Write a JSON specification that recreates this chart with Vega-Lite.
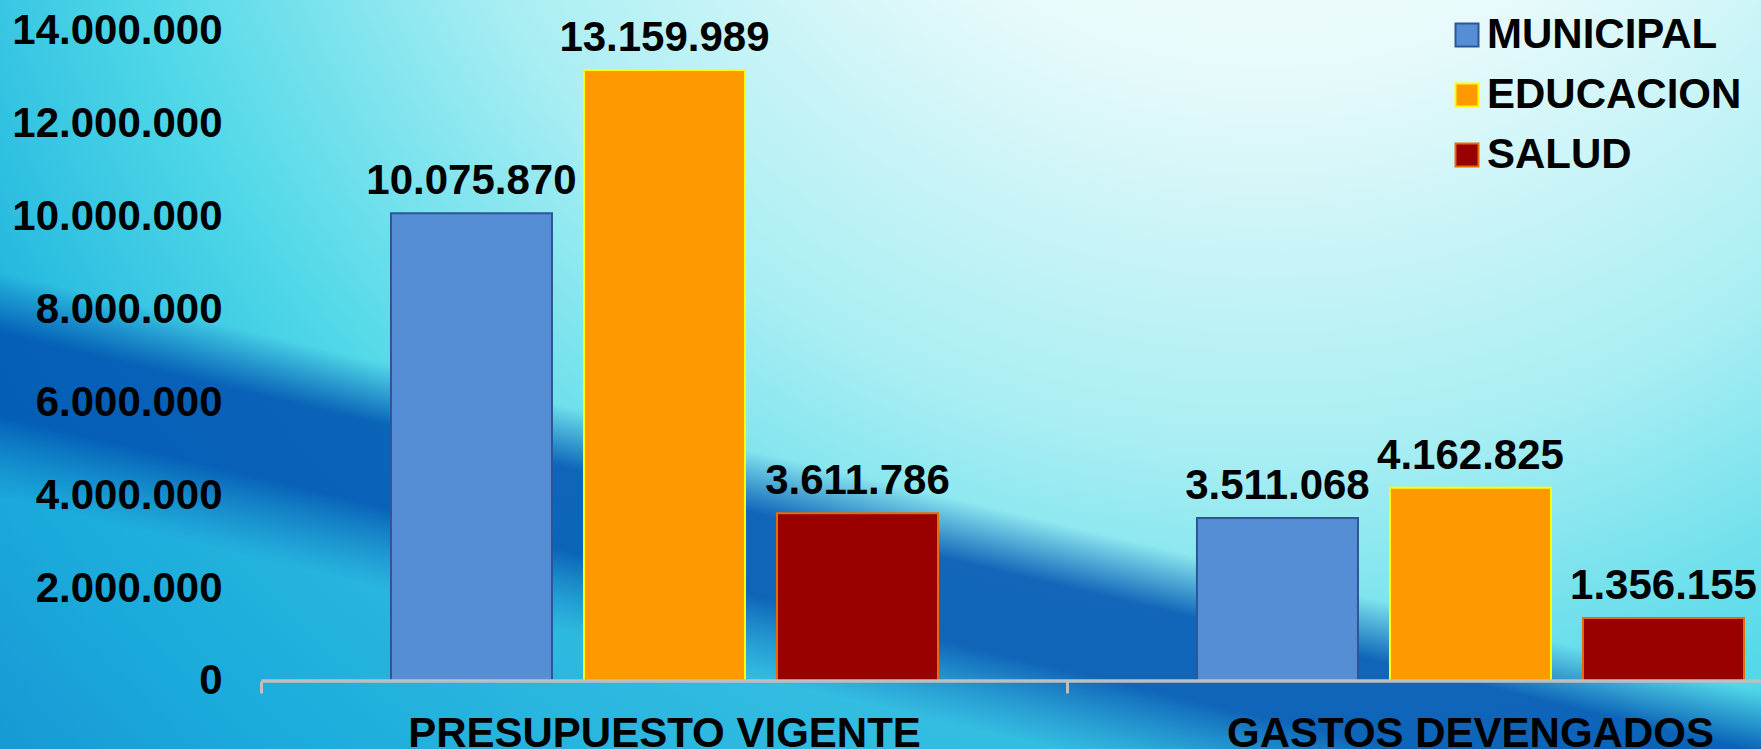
{
  "$schema": "https://vega.github.io/schema/vega-lite/v6.json",
  "width": 1761,
  "height": 749,
  "autosize": {"type": "none"},
  "padding": 0,
  "background": "#6FD6E8",
  "config": {
    "locale": {"number": {"decimal": ",", "thousands": ".", "grouping": [3], "currency": ["", ""]}},
    "font": "Liberation Sans",
    "view": {"stroke": null}
  },
  "data": {
    "values": [
      {"concepto": "PRESUPUESTO VIGENTE", "sector": "MUNICIPAL", "monto": 10075870},
      {"concepto": "PRESUPUESTO VIGENTE", "sector": "EDUCACION", "monto": 13159989},
      {"concepto": "PRESUPUESTO VIGENTE", "sector": "SALUD", "monto": 3611786},
      {"concepto": "GASTOS DEVENGADOS", "sector": "MUNICIPAL", "monto": 3511068},
      {"concepto": "GASTOS DEVENGADOS", "sector": "EDUCACION", "monto": 4162825},
      {"concepto": "GASTOS DEVENGADOS", "sector": "SALUD", "monto": 1356155}
    ]
  },
  "layer": [
    {
      "data": {"values": [{"fondo": "degradado"}]},
      "mark": {
        "type": "rect",
        "fill": {
          "gradient": "radial",
          "x1": 0.72, "y1": 0.05, "r1": 0,
          "x2": 0.72, "y2": 0.05, "r2": 1.1,
          "stops": [
            {"offset": 0, "color": "#FFFFFF"},
            {"offset": 0.25, "color": "#E8FAFB"},
            {"offset": 0.45, "color": "#A8EEF3"},
            {"offset": 0.62, "color": "#50D8E8"},
            {"offset": 0.78, "color": "#1AB0DC"},
            {"offset": 0.9, "color": "#0A7CC8"},
            {"offset": 1, "color": "#0558B0"}
          ]
        }
      },
      "encoding": {}
    },
    {
      "data": {"values": [{"fondo": "franja"}]},
      "mark": {
        "type": "rect",
        "fill": {
          "gradient": "linear",
          "x1": 0.2932, "y1": -0.0236, "x2": -0.2932, "y2": 1.0236,
          "stops": [
            {"offset": 0, "color": "rgba(0,80,176,0)"},
            {"offset": 0.4, "color": "rgba(0,80,176,0)"},
            {"offset": 0.46, "color": "rgba(0,80,176,0.85)"},
            {"offset": 0.54, "color": "rgba(0,80,176,0.85)"},
            {"offset": 0.62, "color": "rgba(30,170,220,0.6)"},
            {"offset": 1, "color": "rgba(30,170,220,0.6)"}
          ]
        }
      },
      "encoding": {}
    },
    {
      "mark": {"type": "bar", "strokeWidth": 2},
      "encoding": {
        "x": {
          "field": "concepto", "type": "nominal",
          "sort": ["PRESUPUESTO VIGENTE", "GASTOS DEVENGADOS"],
          "scale": {"paddingInner": 0.3213, "paddingOuter": 0.2531, "align": 0.9583},
          "axis": {
            "orient": "bottom", "offset": -68, "domain": false, "grid": false, "zindex": 2,
            "bandPosition": -0.2367, "tickSize": 12, "tickWidth": 3, "tickColor": "#BFBFBF",
            "labelPadding": 20, "labelFontSize": 42, "labelFontWeight": "bold",
            "labelColor": "black", "labelAngle": 0, "labelLimit": 1000,
            "labelOverlap": false, "title": null
          }
        },
        "xOffset": {
          "field": "sector", "type": "nominal",
          "sort": ["MUNICIPAL", "EDUCACION", "SALUD"],
          "scale": {"paddingInner": 0.1658, "paddingOuter": 0}
        },
        "y": {
          "field": "monto", "type": "quantitative",
          "scale": {"domain": [-1464600, 14667000], "nice": false, "zero": false},
          "axis": {
            "orient": "left", "offset": -222, "zindex": 2,
            "values": [0, 2000000, 4000000, 6000000, 8000000, 10000000, 12000000, 14000000],
            "format": ",d", "domain": false, "ticks": false, "tickSize": 0,
            "labelPadding": 0, "grid": false, "labelFontSize": 42, "labelFontWeight": "bold",
            "labelColor": "black", "labelLimit": 1000, "labelOverlap": false,
            "labelFlush": false, "title": null
          }
        },
        "y2": {"datum": 0},
        "fill": {
          "field": "sector", "type": "nominal",
          "scale": {"domain": ["MUNICIPAL", "EDUCACION", "SALUD"], "range": ["#558ED5", "#FF9900", "#990000"]},
          "legend": {
            "orient": "none", "legendX": 1446, "legendY": 14, "title": null,
            "symbolType": "square", "symbolSize": 529, "symbolStrokeWidth": 2,
            "labelFontSize": 42, "labelFontWeight": "bold", "labelColor": "black",
            "labelLimit": 1000, "rowPadding": 18, "labelOffset": -1, "padding": 0
          }
        },
        "stroke": {
          "field": "sector", "type": "nominal",
          "scale": {"domain": ["MUNICIPAL", "EDUCACION", "SALUD"], "range": ["#2B5797", "#FFFF00", "#E46C0A"]},
          "legend": {
            "orient": "none", "legendX": 1446, "legendY": 14, "title": null,
            "symbolType": "square", "symbolSize": 529, "symbolStrokeWidth": 2,
            "labelFontSize": 42, "labelFontWeight": "bold", "labelColor": "black",
            "labelLimit": 1000, "rowPadding": 18, "labelOffset": -1, "padding": 0
          }
        }
      }
    },
    {
      "mark": {"type": "text", "dy": -19, "fontSize": 42, "fontWeight": "bold", "baseline": "alphabetic", "color": "black"},
      "encoding": {
        "x": {"field": "concepto", "type": "nominal", "sort": ["PRESUPUESTO VIGENTE", "GASTOS DEVENGADOS"]},
        "xOffset": {"field": "sector", "type": "nominal", "sort": ["MUNICIPAL", "EDUCACION", "SALUD"]},
        "y": {"field": "monto", "type": "quantitative"},
        "text": {"field": "monto", "type": "quantitative", "format": ",d"}
      }
    },
    {
      "data": {"values": [{"eje": "x"}]},
      "mark": {"type": "rule", "color": "#BFBFBF", "strokeWidth": 3.5},
      "encoding": {
        "x": {"datum": "PRESUPUESTO VIGENTE", "bandPosition": -0.2367},
        "x2": {"value": {"expr": "width"}},
        "y": {"datum": 0}
      }
    }
  ]
}
